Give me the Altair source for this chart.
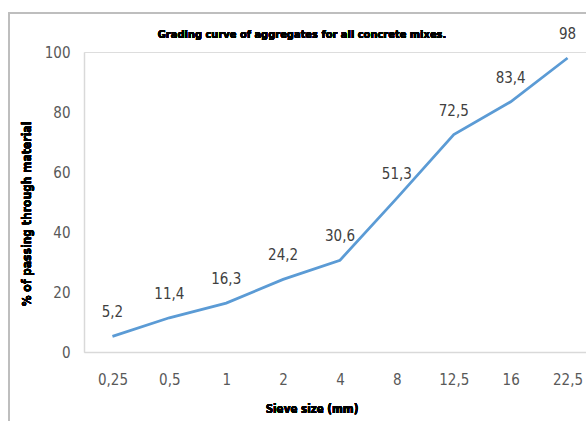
import altair as alt
import pandas as pd

# Sieve sizes (as printed, with decimal commas) and cumulative passing percentages
sieve_labels = ["0,25", "0,5", "1", "2", "4", "8", "12,5", "16", "22,5"]
passing = [5.2, 11.4, 16.3, 24.2, 30.6, 51.3, 72.5, 83.4, 98]
value_labels = ["5,2", "11,4", "16,3", "24,2", "30,6", "51,3", "72,5", "83,4", "98"]

df = pd.DataFrame({"sieve": sieve_labels, "passing": passing, "label": value_labels})

font = "Liberation Sans Narrow, DejaVu Sans Condensed, Open Sans"
grey_text = "#595959"
axis_grey = "#d9d9d9"

x = alt.X(
    "sieve:N",
    sort=sieve_labels,
    scale=alt.Scale(range=[0, 512], paddingInner=0, paddingOuter=0),
    axis=alt.Axis(
        title=None, labelAngle=0, ticks=False, domainColor=axis_grey, domainWidth=1.5,
        labelFont=font, labelFontSize=15, labelColor=grey_text, labelPadding=20,
    ),
)
y = alt.Y(
    "passing:Q",
    scale=alt.Scale(domain=[0, 100]),
    axis=alt.Axis(
        title=None, values=[0, 20, 40, 60, 80, 100], grid=False, ticks=False,
        domainColor=axis_grey, domainWidth=1.5, labelFont=font, labelFontSize=15,
        labelColor=grey_text, labelPadding=14,
    ),
)

line = alt.Chart(df).mark_line(color="#5B9BD5", strokeWidth=2.75).encode(x=x, y=y)

labels = alt.Chart(df).mark_text(
    font=font, fontSize=15, color="#404040", baseline="middle", dy=-24
).encode(x=x, y=y, text="label:N")

# Outer frame around the chart
frame = alt.Chart(df).mark_rect(
    fill="transparent", stroke="#bfbfbf", strokeWidth=1.5
).encode(x=alt.value(-75), x2=alt.value(620), y=alt.value(-39), y2=alt.value(460))

title = alt.Chart(df).mark_text(
    text="Grading curve of aggregates for all concrete mixes.",
    font=font, fontSize=11, fontWeight="bold", color="#000000", baseline="middle",
).encode(x=alt.value(218), y=alt.value(-17))

y_title = alt.Chart(df).mark_text(
    text="% of passing through material",
    font=font, fontSize=12, fontWeight="bold", color="#000000", angle=270,
    baseline="middle",
).encode(x=alt.value(-57), y=alt.value(162))

x_title = alt.Chart(df).mark_text(
    text="Sieve size (mm)",
    font=font, fontSize=11.5, fontWeight="bold", color="#000000", baseline="middle",
).encode(x=alt.value(228), y=alt.value(358))

chart = alt.layer(frame, line, labels, title, y_title, x_title).properties(
    width=502,
    height=300,
    autosize=alt.AutoSizeParams(type="none"),
    padding={"left": 84, "top": 52, "right": 0, "bottom": 69},
).configure_view(stroke=None).configure(background="white")

chart.save("out.html", embed_options={"renderer": "svg", "actions": False})
